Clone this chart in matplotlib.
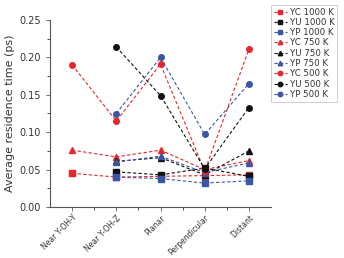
import matplotlib
matplotlib.use("Agg")
import matplotlib.pyplot as plt
import numpy as np

categories = ["Near Y-OH-Y", "Near Y-OH-Z", "Planar", "Perpendicular", "Distant"]
nan = np.nan
yc_1000 = [0.045, 0.040, 0.041, 0.042, 0.043]
yu_1000 = [nan, 0.047, 0.043, 0.052, 0.041]
yp_1000 = [nan, 0.040, 0.038, 0.032, 0.035]
yc_750 = [0.076, 0.067, 0.076, 0.050, 0.062]
yu_750 = [nan, 0.061, 0.066, 0.043, 0.075]
yp_750 = [nan, 0.060, 0.068, 0.046, 0.059]
yc_500 = [0.190, 0.115, 0.191, 0.048, 0.211]
yu_500 = [nan, 0.214, 0.149, 0.051, 0.133]
yp_500 = [nan, 0.125, 0.200, 0.097, 0.165]

series = [
    ("YC 1000 K", yc_1000, "#e8262b", "s"),
    ("YU 1000 K", yu_1000, "#111111", "s"),
    ("YP 1000 K", yp_1000, "#3a56a8", "s"),
    ("YC 750 K", yc_750, "#e8262b", "^"),
    ("YU 750 K", yu_750, "#111111", "^"),
    ("YP 750 K", yp_750, "#3a56a8", "^"),
    ("YC 500 K", yc_500, "#e8262b", "o"),
    ("YU 500 K", yu_500, "#111111", "o"),
    ("YP 500 K", yp_500, "#3a56a8", "o"),
]

fig = plt.figure(figsize=(3.44, 2.58), dpi=100)
ax = fig.add_axes([50/344, 1-207/258, 221/344, 187/258])
x = np.arange(1, len(categories) + 1)
for label, vals, color, marker in series:
    v = np.array(vals, dtype=float)
    m = ~np.isnan(v)
    ax.plot(x[m], v[m], linestyle=(0, (3, 2)), color=color, marker=marker,
            markersize=4.0, linewidth=0.8, label=label)

ax.set_xlim(0.5, 5.5)
ax.set_ylim(0, 0.25)
ax.set_xticks(x)
ax.set_xticks(np.arange(1.5, 5.5, 1), minor=True)
ax.set_yticks([0, 0.05, 0.10, 0.15, 0.20, 0.25])
ax.set_yticks(np.arange(0.025, 0.25, 0.05), minor=True)
ax.set_yticklabels(["0.00", "0.05", "0.10", "0.15", "0.20", "0.25"], fontsize=7, color="#333333")
ax.set_xticklabels(categories, rotation=45, ha="right", rotation_mode="anchor", fontsize=5.5, color="#333333")
ax.tick_params(direction="out", length=3, width=0.6, colors="#555555", labelcolor="#333333")
ax.tick_params(axis="x", pad=1.5)
ax.tick_params(which="minor", length=2, width=0.5)
for s in ["top", "right"]:
    ax.spines[s].set_visible(False)
for s in ["left", "bottom"]:
    ax.spines[s].set_linewidth(0.8)
    ax.spines[s].set_color("#555555")
ax.set_ylabel("Average residence time (ps)", fontsize=8, color="#333333", labelpad=3)

leg = ax.legend(loc="upper left", bbox_to_anchor=(1.0, 1.08), fontsize=6.2,
                frameon=True, fancybox=False, edgecolor="#bbbbbb",
                handlelength=1.6, handletextpad=0.3, labelspacing=0.15,
                borderpad=0.3, borderaxespad=0.0, markerscale=0.8)
leg.get_frame().set_linewidth(0.6)
for t in leg.get_texts():
    t.set_color("#333333")

fig.savefig("out.png", dpi=100)
